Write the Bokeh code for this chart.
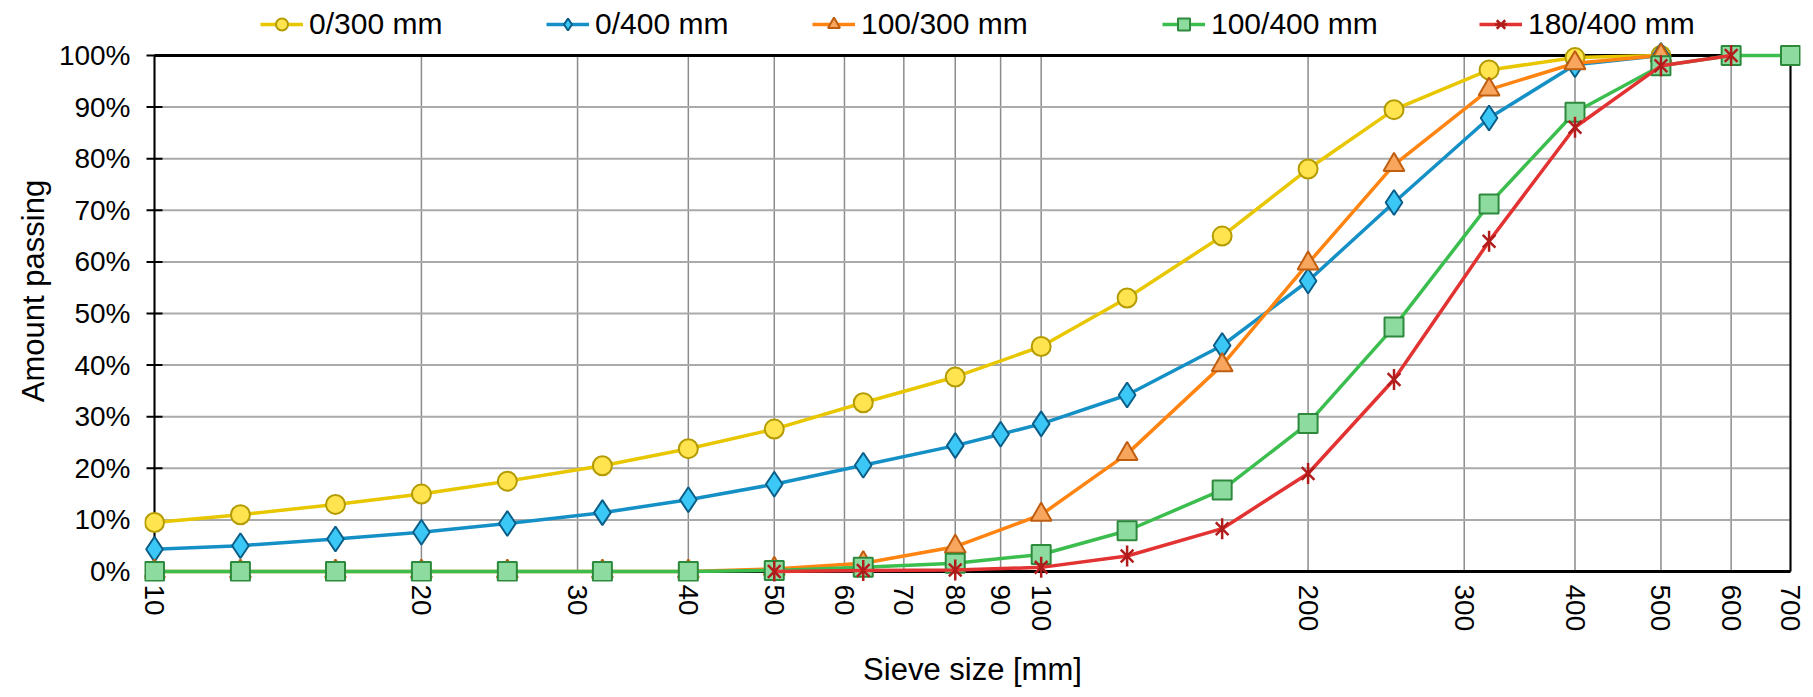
import math
from bokeh.plotting import figure
from bokeh.models import (FixedTicker, PrintfTickFormatter, Legend, LegendItem)
from bokeh.embed import file_html
from bokeh.resources import INLINE

# ---- data (sieve size in mm, amount passing in %) ----
x_0_300 = [10, 12.5, 16, 20, 25, 32, 40, 50, 63, 80, 100, 125, 160, 200, 250, 320, 400, 500]
y_0_300 = [9.5, 11, 13, 15, 17.5, 20.5, 23.8, 27.6, 32.7, 37.7, 43.6, 53, 65, 78, 89.5, 97.2, 99.6, 100]

x_0_400 = [10, 12.5, 16, 20, 25, 32, 40, 50, 63, 80, 90, 100, 125, 160, 200, 250, 320, 400, 500]
y_0_400 = [4.3, 5, 6.3, 7.6, 9.3, 11.4, 13.9, 16.9, 20.6, 24.4, 26.6, 28.6, 34.2, 43.8, 56.3, 71.5, 87.9, 98.2, 100]

x_100_300 = [10, 12.5, 16, 20, 25, 32, 40, 50, 63, 80, 100, 125, 160, 200, 250, 320, 400, 500]
y_100_300 = [0, 0, 0, 0, 0, 0, 0, 0.5, 1.6, 4.8, 11, 22.8, 40, 59.7, 78.8, 93.4, 98.5, 100]

x_100_400 = [10, 12.5, 16, 20, 25, 32, 40, 50, 63, 80, 100, 125, 160, 200, 250, 320, 400, 500, 600, 700]
y_100_400 = [0, 0, 0, 0, 0, 0, 0, 0.2, 0.8, 1.6, 3.3, 7.9, 15.8, 28.7, 47.4, 71.2, 89, 98, 100, 100]

x_180_400 = [50, 63, 80, 100, 125, 160, 200, 250, 320, 400, 500, 600]
y_180_400 = [0, 0.2, 0.3, 0.8, 3, 8.3, 19, 37.2, 64, 86.1, 98, 100]

series_labels = ["0/300 mm", "0/400 mm", "100/300 mm", "100/400 mm", "180/400 mm"]
x_ticks = [10, 20, 30, 40, 50, 60, 70, 80, 90, 100, 200, 300, 400, 500, 600, 700]
y_ticks = [0, 10, 20, 30, 40, 50, 60, 70, 80, 90, 100]

X_AXIS = (10, 700)
Y_AXIS = (0, 100)

FONT = "Liberation Sans"
FS_TICK = "28px"
FS_TITLE = "31px"
FS_LEG = "30px"

W, H = 1805, 690
LEFT, RIGHT, BOTTOM = 144, 5, 109
PAD = 10        # px around the box so markers on its edges are not clipped
TOP_ROOM = 55   # px above the box for the legend

frame_w = W - LEFT - RIGHT
frame_h = H - BOTTOM
box_w = frame_w - 2 * PAD
box_h = frame_h - PAD - TOP_ROOM
dec = math.log10(X_AXIS[1] / X_AXIS[0])
fx = 10 ** (PAD * dec / box_w)
upp = (Y_AXIS[1] - Y_AXIS[0]) / box_h

p = figure(width=W, height=H, x_axis_type="log",
           x_range=(X_AXIS[0] / fx, X_AXIS[1] * fx),
           y_range=(Y_AXIS[0] - PAD * upp, Y_AXIS[1] + TOP_ROOM * upp),
           output_backend="svg", toolbar_location=None,
           min_border_left=LEFT, min_border_right=RIGHT, min_border_top=0, min_border_bottom=BOTTOM)
p.outline_line_color = None
p.xgrid.visible = False
p.ygrid.visible = False

# axes (labels only; the box is drawn below)
xa = p.xaxis[0]
xa.ticker = FixedTicker(ticks=x_ticks, minor_ticks=[])
xa.formatter = PrintfTickFormatter(format="%d")
xa.major_label_orientation = -math.pi / 2
xa.major_tick_out = 0
xa.major_tick_in = 0
xa.minor_tick_out = 0
xa.minor_tick_in = 0
xa.major_label_standoff = 3
xa.axis_line_color = None
xa.axis_label = "Sieve size [mm]"
xa.axis_label_standoff = 18

ya = p.yaxis[0]
ya.ticker = FixedTicker(ticks=y_ticks, minor_ticks=[])
ya.formatter = PrintfTickFormatter(format="%d%%")
ya.major_tick_out = 0
ya.major_tick_in = 0
ya.minor_tick_out = 0
ya.minor_tick_in = 0
ya.major_label_standoff = 14
ya.axis_line_color = None
ya.axis_label = "Amount passing"
ya.axis_label_standoff = 5

for ax in (xa, ya):
    ax.major_label_text_font = FONT
    ax.major_label_text_font_size = FS_TICK
    ax.major_label_text_color = "black"
    ax.axis_label_text_font = FONT
    ax.axis_label_text_font_size = FS_TITLE
    ax.axis_label_text_font_style = "normal"
    ax.axis_label_text_color = "black"

# grid lines inside the axis box
p.segment(x0=x_ticks, y0=[Y_AXIS[0]] * len(x_ticks), x1=x_ticks, y1=[Y_AXIS[1]] * len(x_ticks),
          line_color="#8c8c8c", line_width=1.5)
p.segment(x0=[X_AXIS[0]] * len(y_ticks), y0=y_ticks, x1=[X_AXIS[1]] * len(y_ticks), y1=y_ticks,
          line_color="#aaaaaa", line_width=2)
# box
p.segment(x0=[X_AXIS[0], X_AXIS[0]], y0=[Y_AXIS[0], Y_AXIS[1]],
          x1=[X_AXIS[1], X_AXIS[1]], y1=[Y_AXIS[0], Y_AXIS[1]], line_color="black", line_width=3)
p.segment(x0=[X_AXIS[0], X_AXIS[1]], y0=[Y_AXIS[0], Y_AXIS[0]],
          x1=[X_AXIS[0], X_AXIS[1]], y1=[Y_AXIS[1], Y_AXIS[1]], line_color="black", line_width=2)
# y tick marks crossing the left axis
p.scatter(x=[X_AXIS[0]] * len(y_ticks), y=y_ticks, marker="dash", size=16,
          line_color="black", line_width=2)

styles = [
    dict(line="#E8C700", marker="circle", size=19, fill="#FFE44F", edge="#B39B00"),
    dict(line="#1590C6", marker="diamond", size=25, fill="#3CC8F7", edge="#0B5E88"),
    dict(line="#FF8412", marker="triangle", size=21, fill="#F8A55E", edge="#C05E10"),
    dict(line="#3CBE4F", marker="square", size=19, fill="#8EDBA0", edge="#2D8A3D"),
    dict(line="#E23232", marker="asterisk6", size=21, fill=None, edge="#B01C1C"),
]
xs = [x_0_300, x_0_400, x_100_300, x_100_400, x_180_400]
ys = [y_0_300, y_0_400, y_100_300, y_100_400, y_180_400]


def draw(fig, x, y, s):
    rs = [fig.line(x, y, line_color=s["line"], line_width=3.5)]
    if s["marker"] == "asterisk6":
        rs.append(fig.scatter(x, y, marker="x", size=s["size"] - 3, line_color=s["edge"], line_width=2.5))
        rs.append(fig.scatter(x, y, marker="dash", angle=math.pi / 2, size=s["size"],
                              line_color=s["edge"], line_width=2.5))
    else:
        rs.append(fig.scatter(x, y, marker=s["marker"], size=s["size"], fill_color=s["fill"],
                              line_color=s["edge"], line_width=2))
    return rs


# legend entries, placed one by one above the box (x in px from the frame's left edge)
leg_x = [116, 402, 668, 1018, 1335]
leg_y = frame_h - 41
for i, (x, y, s) in enumerate(zip(xs, ys, styles)):
    rs = draw(p, x, y, s)
    leg = Legend(items=[LegendItem(label=series_labels[i], renderers=rs)],
                 location=(leg_x[i], leg_y), orientation="horizontal",
                 label_text_font=FONT, label_text_font_size=FS_LEG, label_text_color="black",
                 glyph_width=43, glyph_height=30, label_height=30, label_standoff=6,
                 padding=0, margin=0, border_line_color=None, background_fill_alpha=0)
    p.add_layout(leg, "center")

open("out.html", "w").write(file_html(p, INLINE))
